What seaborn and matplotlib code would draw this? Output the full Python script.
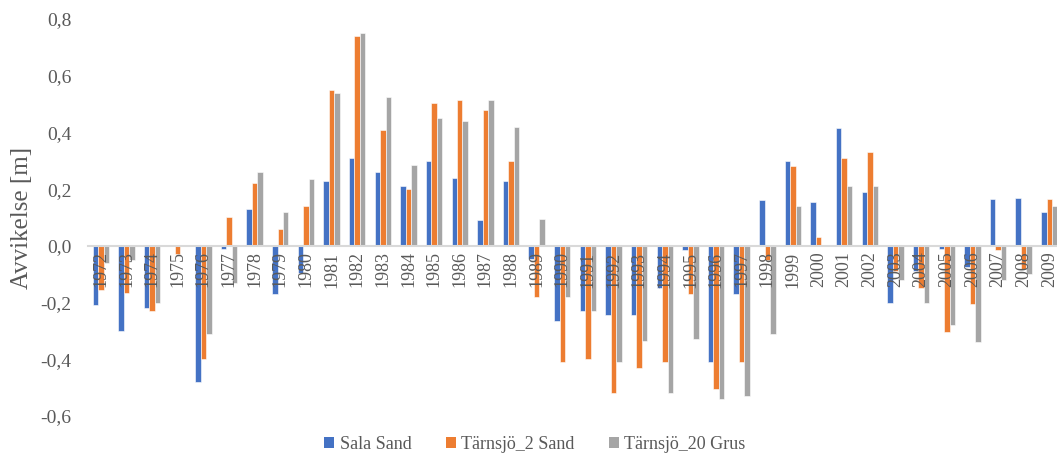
import matplotlib
matplotlib.use("Agg")
import matplotlib.pyplot as plt
import seaborn as sns
import pandas as pd
from matplotlib.patches import Patch

years = ["1972", "1973", "1974", "1975", "1976", "1977", "1978", "1979", "1980", "1981",
         "1982", "1983", "1984", "1985", "1986", "1987", "1988", "1989", "1990", "1991",
         "1992", "1993", "1994", "1995", "1996", "1997", "1998", "1999", "2000", "2001",
         "2002", "2003", "2004", "2005", "2006", "2007", "2008", "2009"]

sala_sand = [-0.21, -0.30, -0.22, 0.0, -0.48, -0.01, 0.13, -0.17, -0.095, 0.23,
             0.31, 0.26, 0.21, 0.30, 0.24, 0.09, 0.23, -0.045, -0.265, -0.23,
             -0.245, -0.245, -0.15, -0.015, -0.41, -0.17, 0.16, 0.30, 0.155, 0.415,
             0.19, -0.20, -0.09, -0.01, -0.075, 0.165, 0.17, 0.12]

tarnsjo_2_sand = [-0.155, -0.165, -0.23, -0.03, -0.40, 0.10, 0.22, 0.06, 0.14, 0.55,
                  0.74, 0.41, 0.20, 0.505, 0.515, 0.48, 0.30, -0.18, -0.41, -0.40,
                  -0.52, -0.43, -0.41, -0.17, -0.505, -0.41, -0.05, 0.28, 0.03, 0.31,
                  0.33, -0.09, -0.15, -0.305, -0.205, -0.015, -0.08, 0.165]

tarnsjo_20_grus = [-0.06, -0.05, -0.20, 0.0, -0.31, -0.13, 0.26, 0.12, 0.235, 0.54,
                   0.75, 0.525, 0.285, 0.45, 0.44, 0.515, 0.42, 0.095, -0.18, -0.23,
                   -0.41, -0.335, -0.52, -0.33, -0.54, -0.53, -0.31, 0.14, 0.0, 0.21,
                   0.21, -0.12, -0.20, -0.28, -0.34, -0.12, -0.10, 0.14]

series_names = ["Sala Sand", "Tärnsjö_2 Sand", "Tärnsjö_20 Grus"]
colors = ["#4472C4", "#ED7D31", "#A5A5A5"]
y_ticks = [-0.6, -0.4, -0.2, 0.0, 0.2, 0.4, 0.6, 0.8]
y_ticklabels = ["-0,6", "-0,4", "-0,2", "0,0", "0,2", "0,4", "0,6", "0,8"]

df = pd.DataFrame({
    "År": years * 3,
    "Avvikelse": sala_sand + tarnsjo_2_sand + tarnsjo_20_grus,
    "Serie": [series_names[0]] * len(years) + [series_names[1]] * len(years) + [series_names[2]] * len(years),
})

sns.set_theme(style="white")
plt.rcParams["font.family"] = ["Liberation Serif", "DejaVu Serif"]
text_color = "#595959"

fig = plt.figure(figsize=(10.57, 4.67), dpi=100)
ax = fig.add_axes([88 / 1057, 1 - 416 / 467, 1 - 88 / 1057, (416 - 19) / 467])

sns.barplot(data=df, x="År", y="Avvikelse", hue="Serie", order=years,
            hue_order=series_names, palette=colors, width=0.64, gap=0.0,
            saturation=1.0, errorbar=None, ax=ax, legend=False,
            edgecolor="white", linewidth=0.4)

ax.set_ylim(-0.6, 0.8)
ax.set_xlim(-0.5, 37.3)
ax.set_yticks(y_ticks)
ax.set_yticklabels(y_ticklabels, fontsize=14, color=text_color)
ax.set_ylabel("Avvikelse [m]", fontsize=18, color=text_color, labelpad=5)
ax.set_xlabel("")

for s in ["top", "right", "left"]:
    ax.spines[s].set_visible(False)
ax.spines["bottom"].set_position(("data", 0))
ax.spines["bottom"].set_color("#D9D9D9")
ax.spines["bottom"].set_linewidth(1.5)
ax.set_axisbelow(False)

ax.tick_params(axis="x", length=0, pad=4, labelsize=13, labelcolor=text_color, rotation=90)
ax.tick_params(axis="y", length=0, pad=12, labelsize=14, labelcolor=text_color)
for lbl in ax.get_xticklabels():
    lbl.set_verticalalignment("top")

handles = [Patch(facecolor=c, edgecolor="none") for c in colors]
fig.legend(handles, series_names, loc="lower center", bbox_to_anchor=(0.506, -0.005),
           ncol=3, frameon=False, fontsize=13, handlelength=0.55, handleheight=0.55,
           handletextpad=0.3, columnspacing=1.9, labelcolor=text_color)

fig.savefig("out.png", dpi=100)
